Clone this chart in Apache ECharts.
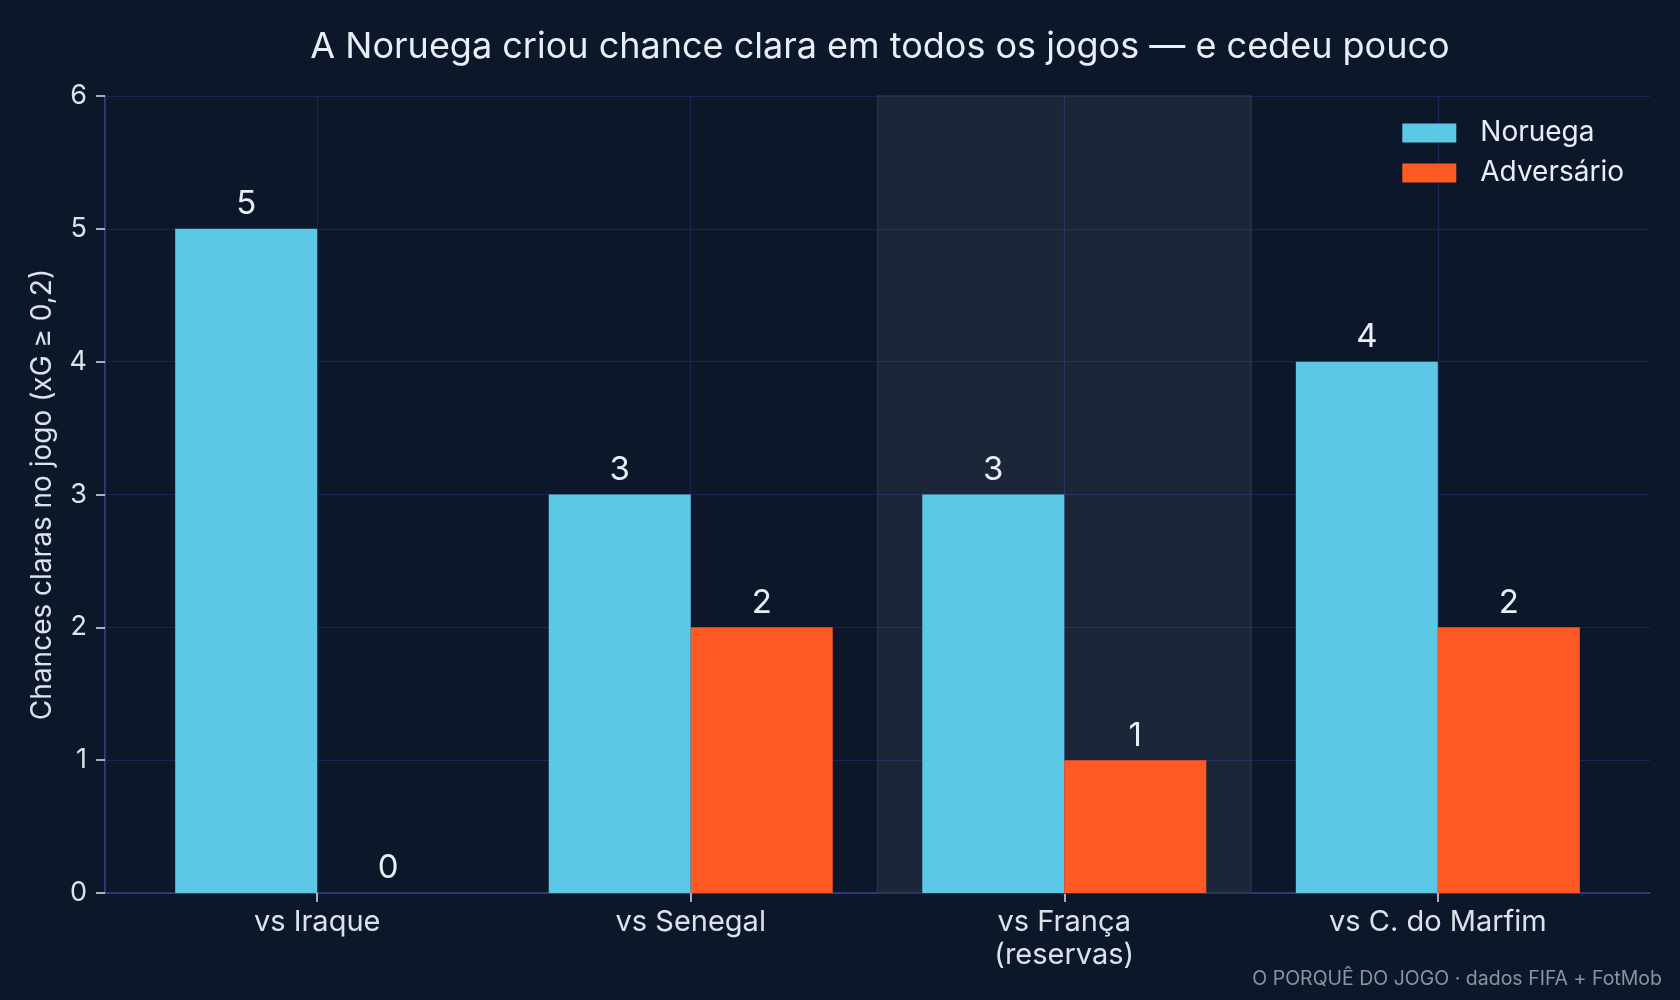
<!DOCTYPE html>
<html>
<head>
    <meta charset="utf-8" />
    <title>Chances claras</title>
    <script src="https://cdn.jsdelivr.net/npm/echarts@6/dist/echarts.min.js"></script>
    <style>
        html, body { margin: 0; padding: 0; background: #0c1729; }
        #main { width: 1680px; height: 1000px; }
    </style>
</head>
<body>
<div id="main"></div>
<script type="text/javascript">
    // dados
    let categorias = ['vs Iraque', 'vs Senegal', 'vs França\n(reservas)', 'vs C. do Marfim'];
    let noruega = [5, 3, 3, 4];
    let adversario = [0, 2, 1, 2];
    let yTicks = [0, 1, 2, 3, 4, 5, 6];
    let destaque = 2; // jogo com reservas (faixa cinza)

    let posicoes = categorias.map(function (c, i) { return i; });
    let texto = '#e9edf4';
    let grade = '#1e2554';
    let eixo = '#3c3f96';

    let option = {
        backgroundColor: '#0c1729',
        animation: false,
        textStyle: { fontFamily: 'Inter' },
        title: [{
            text: 'A Noruega criou chance clara em todos os jogos — e cedeu pouco',
            left: 875,
            textAlign: 'center',
            top: 24,
            textStyle: { color: texto, fontSize: 36, fontWeight: 'normal', fontFamily: 'Inter' }
        }, {
            text: 'O PORQUÊ DO JOGO · dados FIFA + FotMob',
            right: 13,
            bottom: 6,
            textStyle: { color: '#8b93a3', fontSize: 19.5, fontWeight: 'normal', fontFamily: 'Inter' }
        }],
        legend: {
            data: ['Noruega', 'Adversário'],
            orient: 'vertical',
            right: 56,
            top: 119,
            padding: 0,
            icon: 'rect',
            itemWidth: 54,
            itemHeight: 19,
            itemGap: 12,
            textStyle: { color: texto, fontSize: 28, fontFamily: 'Inter', padding: [0, 0, 0, 19] }
        },
        grid: { left: 105, right: 30, top: 96, bottom: 107 },
        xAxis: {
            type: 'value',
            min: -0.568,
            max: 3.568,
            axisLine: { show: true, onZero: false, lineStyle: { color: eixo, width: 1.5 } },
            axisTick: { show: true, customValues: posicoes, length: 9, lineStyle: { color: '#dde2ea', width: 1.5 } },
            axisLabel: {
                customValues: posicoes,
                formatter: function (v) { return categorias[Math.round(v)]; },
                color: '#dde2ea', fontSize: 29, lineHeight: 33, margin: 13, fontFamily: 'Inter'
            },
            splitLine: { show: true, lineStyle: { color: grade, width: 1.2 } }
        },
        yAxis: {
            type: 'value',
            min: yTicks[0],
            max: yTicks[yTicks.length - 1],
            interval: 1,
            name: 'Chances claras no jogo (xG ≥ 0,2)',
            nameLocation: 'middle',
            nameGap: 48,
            nameTextStyle: { color: '#dde2ea', fontSize: 28, fontFamily: 'Inter' },
            axisLine: { show: true, onZero: false, lineStyle: { color: eixo, width: 1.5 } },
            axisTick: { show: true, length: 9, lineStyle: { color: '#dde2ea', width: 1.5 } },
            axisLabel: { color: '#dde2ea', fontSize: 27, margin: 18, fontFamily: 'Inter' },
            splitLine: { show: true, lineStyle: { color: grade, width: 1.2 } }
        },
        series: [{
            name: 'Noruega',
            type: 'bar',
            barWidth: 142,
            barGap: '0%',
            data: noruega.map(function (v, i) { return [i, v]; }),
            itemStyle: { color: '#5bc8e6' },
            label: { show: true, position: 'top', distance: 8, color: texto, fontSize: 33, fontFamily: 'Inter' },
            markArea: {
                silent: true,
                z: 1,
                itemStyle: { color: 'rgba(190,205,225,0.09)', borderColor: '#283142', borderWidth: 1.5 },
                data: [[{ xAxis: destaque - 0.5 }, { xAxis: destaque + 0.5 }]]
            }
        }, {
            name: 'Adversário',
            type: 'bar',
            barWidth: 142,
            barGap: '0%',
            data: adversario.map(function (v, i) { return [i, v]; }),
            itemStyle: { color: '#ff5a23' },
            label: { show: true, position: 'top', distance: 8, color: texto, fontSize: 33, fontFamily: 'Inter' }
        }]
    };

    let myChart = echarts.init(document.getElementById('main'));
    myChart.setOption(option);
</script>
</body>
</html>
